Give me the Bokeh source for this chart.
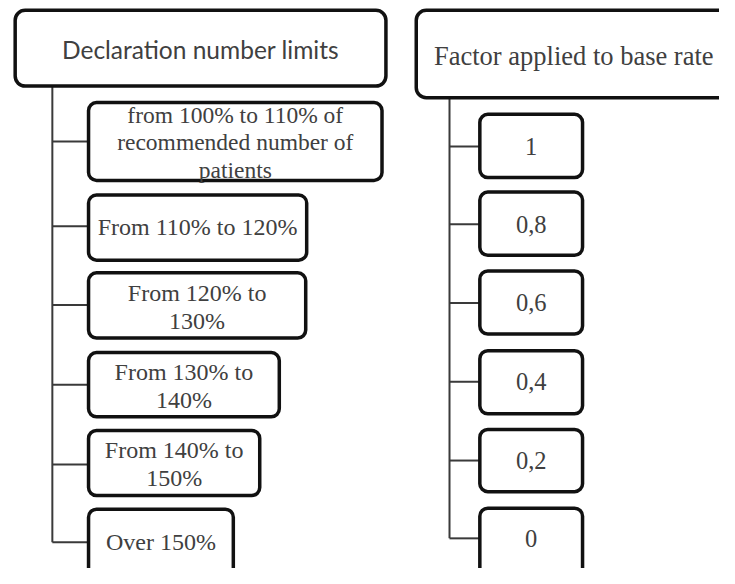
from bokeh.plotting import figure
from bokeh.models import Range1d
from bokeh.core.properties import value
from bokeh.embed import file_html
from bokeh.resources import INLINE

# ---- data (texts of the diagram) ----
left_header = "Declaration number limits"
right_header = "Factor applied to base rate"
limit_labels = [
    "from 100% to 110% of\nrecommended number of\npatients",
    "From 110% to 120%",
    "From 120% to\n130%",
    "From 130% to\n140%",
    "From 140% to\n150%",
    "Over 150%",
]
factor_labels = ["1", "0,8", "0,6", "0,4", "0,2", "0"]

# ---- layout (pixel geometry of the diagram) ----
L_HDR = dict(left=15, right=394, top=10, bottom=88)
R_HDR = dict(left=425, right=750, top=10, bottom=100)
L_TRUNK_X = 53
R_TRUNK_X = 459
L_BOX_LEFT = 90
L_BOX_RIGHT = [390, 313, 312, 285, 265, 238]
L_BOX_TOP = [105, 200, 280, 362, 442, 523]
L_BOX_BOT = [185, 267, 347, 428, 509, 600]
R_BOX_LEFT, R_BOX_RIGHT = 490, 595
R_BOX_TOP = [117, 197, 278, 360, 441, 522]
R_BOX_BOT = [182, 262, 343, 425, 505, 600]
L_CONN_Y = [145, 232, 313, 395, 477, 557]
R_CONN_Y = [150, 230, 311, 392, 473, 553]

p = figure(width=719, height=568, output_backend="svg", toolbar_location=None,
           x_range=Range1d(0, 735), y_range=Range1d(584, 0), min_border=0)
p.xaxis.visible = False
p.yaxis.visible = False
p.grid.visible = False
p.outline_line_color = None
p.background_fill_color = "white"
p.border_fill_color = "white"

LINE = "#3a3a3a"
TXT = "#404040"
serif = value("Liberation Serif")

# trunks and connectors
p.line([L_TRUNK_X, L_TRUNK_X], [L_HDR["bottom"], L_CONN_Y[-1]], line_color=LINE, line_width=2)
p.line([R_TRUNK_X, R_TRUNK_X], [R_HDR["bottom"], R_CONN_Y[-1]], line_color=LINE, line_width=2)
p.segment(x0=[L_TRUNK_X] * 6, x1=[L_BOX_LEFT] * 6, y0=L_CONN_Y, y1=L_CONN_Y,
          line_color=LINE, line_width=2)
p.segment(x0=[R_TRUNK_X] * 6, x1=[R_BOX_LEFT] * 6, y0=R_CONN_Y, y1=R_CONN_Y,
          line_color=LINE, line_width=2)

# header boxes
p.quad(left=[L_HDR["left"], R_HDR["left"]], right=[L_HDR["right"], R_HDR["right"]],
       top=[L_HDR["top"], R_HDR["top"]], bottom=[L_HDR["bottom"], R_HDR["bottom"]],
       fill_color="white", line_color="#111111", line_width=3.5, border_radius=10)

# child boxes
p.quad(left=[L_BOX_LEFT] * 6, right=L_BOX_RIGHT, top=L_BOX_TOP, bottom=L_BOX_BOT,
       fill_color="white", line_color="#111111", line_width=3.5, border_radius=8)
p.quad(left=[R_BOX_LEFT] * 6, right=[R_BOX_RIGHT] * 6, top=R_BOX_TOP, bottom=R_BOX_BOT,
       fill_color="white", line_color="#111111", line_width=3.5, border_radius=8)

# header texts
p.text(x=[(L_HDR["left"] + L_HDR["right"]) / 2], y=[50], text=[left_header],
       text_font=value("Lato"), text_font_size="24.5px", text_color=TXT,
       text_align="center", text_baseline="middle")
p.text(x=[586], y=[57], text=[right_header],
       text_font=serif, text_font_size="26.5px", text_color=TXT,
       text_align="center", text_baseline="middle")

# child texts
lx = [(L_BOX_LEFT + r) / 2 for r in L_BOX_RIGHT]
ly = [146, 233, 315, 396, 477, 557]
p.text(x=lx[:1], y=ly[:1], text=limit_labels[:1], text_font=serif, text_font_size="23.5px",
       text_color=TXT, text_align="center", text_baseline="middle", text_line_height=1.05)
p.text(x=lx[1:], y=ly[1:], text=limit_labels[1:], text_font=serif, text_font_size="24px",
       text_color=TXT, text_align="center", text_baseline="middle", text_line_height=1.08)
p.text(x=[(R_BOX_LEFT + R_BOX_RIGHT) / 2] * 6, y=R_CONN_Y, text=factor_labels,
       text_font=serif, text_font_size="24.5px", text_color=TXT,
       text_align="center", text_baseline="middle")

open("out.html", "w").write(file_html(p, INLINE))
